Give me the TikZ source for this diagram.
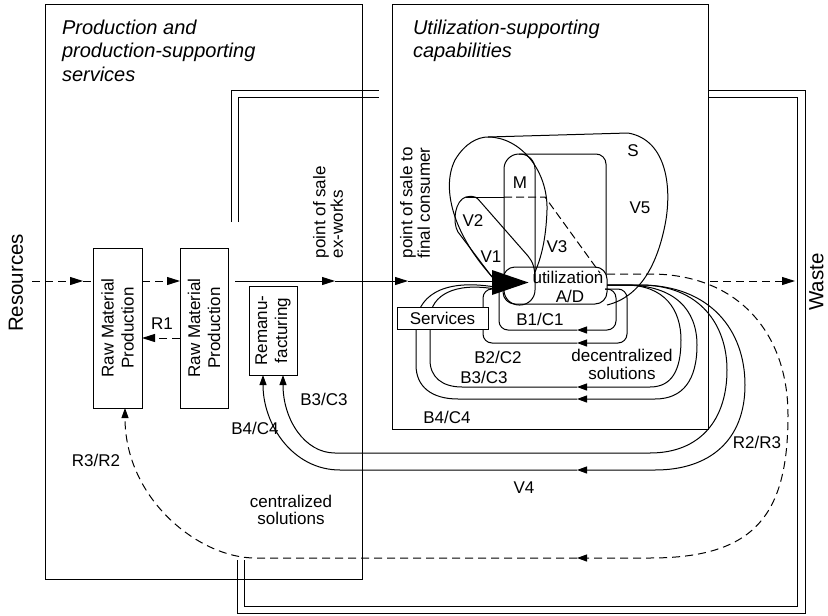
\documentclass[tikz,border=0pt]{standalone}
\usepackage{fontspec}
\setmainfont{Liberation Sans}
\usetikzlibrary{arrows.meta}
\begin{document}
\begin{tikzpicture}[x=1pt,y=-1pt,line width=1pt,
  every node/.style={inner sep=0pt,outer sep=0pt,font=\fontsize{17}{20}\selectfont},
  blk/.style={draw,line width=1pt},
  bigtip/.style={-{Triangle[length=13pt,width=8pt]}},
  smtip/.style={-{Triangle[length=10pt,width=7pt]}},
  dsh/.style={dash pattern=on 8pt off 5pt},
  ttl/.style={anchor=north west,align=left,font=\fontsize{20}{23.5}\selectfont\itshape},
  side/.style={rotate=90,font=\fontsize{20.5}{24}\selectfont},
  possale/.style={rotate=90,anchor=north west,align=left,font=\fontsize{17}{17.5}\selectfont},
]
\useasboundingbox (0,0) rectangle (828,616);

% helper coordinates
\coordinate (fy) at (0,281);
\coordinate (r1y) at (0,338);
\coordinate (x125) at (125,0);
\coordinate (x263) at (263,0);
\coordinate (x283) at (283,0);

% big frames
\node[blk,minimum width=317pt,minimum height=575pt] (prod) at (203.5,291.5) {};
\node[blk,minimum width=316pt,minimum height=425pt] (util) at (550,216.5) {};
\node[ttl] (t1) at (62,20) {Production and\\production-supporting\\services};
\node[ttl] (t2) at (413,20) {Utilization-supporting\\capabilities};

% double frame
\draw (231,222) -- (231,90) -- (379,90);
\draw (238,222) -- (238,97) -- (379,97);
\draw (708,90) -- (805,90) -- (805,613) -- (237,613) -- (237,560);
\draw (708,97) -- (797,97) -- (797,606) -- (244,606) -- (244,560);

% side labels
\node[side] (res) at (16,283) {Resources};
\node[side] (waste) at (816.5,282) {Waste};

% production boxes
\node[blk,minimum width=49pt,minimum height=160pt] (rm1) at (117.5,328) {};
\node[rotate=90,align=center] at (rm1) {Raw Material\\Production};
\node[blk,minimum width=48pt,minimum height=160pt] (rm2) at (204,328) {};
\node[rotate=90,align=center] at (rm2) {Raw Material\\Production};
\node[blk,minimum width=48pt,minimum height=89pt] (reman) at (273,330.5) {};
\node[rotate=90,align=center] at (reman) {Remanu-\\facturing};

% flows on the left
\coordinate (rs) at (32,281);
\coordinate (rtip) at (83,281);
\draw[dsh,bigtip] (rs) -- (rtip);
\draw[dsh] (rtip) -- (rm1.west |- fy);
\draw[dsh,bigtip] (rm1.east |- fy) -- (rm2.west |- fy);
\draw[dsh,bigtip] (rm2.west |- r1y) -- (rm1.east |- r1y);
\node (r1) at (162,324) {R1};

% main solid flow
\coordinate (f0) at (235,281);
\coordinate (f1) at (335,281);
\coordinate (f2) at (408,281);
\coordinate (f3) at (495,281);
\draw[bigtip] (f0) -- (f1);
\draw[bigtip] (f1) -- (f2);
\draw (f2) -- (f3);
\node[possale] (pse) at (313,258) {point of sale\\ex-works};
\node[possale] (psf) at (400,258) {point of sale to\\final consumer};

% waste arrow
\coordinate (w0) at (710,281);
\coordinate (w1) at (795,281);
\draw[dsh,bigtip] (w0) -- (w1);

% utilization structures
\draw[rounded corners=15pt] (504,154) rectangle (535,305);
\draw[rounded corners=10pt] (519,154) -| (606,275);
\draw[rounded corners=12pt] (503,267) rectangle (607,304);
% teardrop
\draw (500,285) .. controls (455,240) and (440,190) .. (455,160)
  .. controls (465,143) and (478,137) .. (488,137)
  .. controls (520,137) and (548,170) .. (547,210)
  .. controls (546,240) and (541,258) .. (535,272);
% outer S
\draw (488,137) -- (628,133) .. controls (668,140) and (672,190) .. (665,225)
  .. controls (657,265) and (640,297) .. (607,305);
% V2 shape
\draw (492,277) -- (458,232) .. controls (452,222) and (455,200) .. (466,197)
  .. controls (471,196) and (475,196) .. (478,199) -- (528,256)
  .. controls (533,262) and (535,268) .. (535,280);
\draw (466,197) -- (504,197);
\draw[dash pattern=on 8pt off 4pt] (504,197) -- (545,197) -- (600,273);
% big arrowhead
\fill (492,270) -- (528.5,282.5) -- (492,295) -- cycle;

\node at (520,183) {M};
\node at (473,221) {V2};
\node at (491,257) {V1};
\node at (557,247) {V3};
\node at (633,151) {S};
\node at (640,208) {V5};
\node[anchor=base] at (568,283) {utilization};
\node[anchor=base] at (570,302) {A/D};

% B1/C1 loop
\draw[rounded corners=9pt,smtip] (605,289) -| (616,330) -- (577,330);
\draw[rounded corners=9pt] (577,330) -| (499,292);
% B2/C2 loop
\draw[rounded corners=9pt,smtip] (605,289) -| (627,343) -- (577,343);
\draw[rounded corners=9pt] (577,343) -| (483,289) -- (500,289);
% B3/C3 decentralized
\draw[smtip] (607,285) -- (625,285) .. controls (665,285) and (681,310) .. (681,340)
  .. controls (681,370) and (672,387) .. (650,387) -- (577,387);
\draw (577,387) -- (462,387) .. controls (442,387) and (430,377) .. (430,360)
  -- (430,318) .. controls (431,295) and (455,282) .. (495,289);
% B4/C4 decentralized
\draw[smtip] (607,285) -- (625,285) .. controls (675,285) and (697,310) .. (697,345)
  .. controls (697,380) and (683,399) .. (655,399) -- (577,399);
\draw (577,399) -- (458,399) .. controls (432,399) and (416,387) .. (416,365)
  -- (416,325) .. controls (417,298) and (440,278) .. (495,287);
% B3/C3 centralized
\draw[smtip] (607,285) -- (640,285) .. controls (700,285) and (727,325) .. (727,370)
  .. controls (727,420) and (700,453) .. (650,453) -- (335,453)
  .. controls (305,453) and (283,420) .. (reman.south -| x283);
% V4 / B4/C4 centralized
\draw[smtip] (607,285) -- (640,285) .. controls (710,285) and (745,330) .. (745,385)
  .. controls (745,440) and (710,470) .. (655,470) -- (577,470);
\draw[smtip] (577,470) -- (340,470) .. controls (293,470) and (263,425) .. (reman.south -| x263);
% R2/R3 dashed
\draw[dsh,smtip] (607,274) -- (650,274) .. controls (740,274) and (788,335) .. (788,415)
  .. controls (788,515) and (755,558) .. (650,558) -- (577,558);
\draw[dsh,smtip] (577,558) -- (255,558) .. controls (200,558) and (125,500) .. (rm1.south -| x125);

% services box
\node[blk,fill=white,minimum width=91pt,minimum height=22pt] (serv) at (442.5,318) {Services};

% loop labels
\node at (540,319) {B1/C1};
\node at (498,357) {B2/C2};
\node at (484,377) {B3/C3};
\node at (447,417) {B4/C4};
\node[anchor=base] at (622,361) {decentralized};
\node[anchor=base] at (622,379) {solutions};
\node at (324,399) {B3/C3};
\node at (255,428) {B4/C4};
\node at (96,460) {R3/R2};
\node at (524,488) {V4};
\node at (757,442) {R2/R3};
\node[anchor=base] at (291,507) {centralized};
\node[anchor=base] at (291,524) {solutions};
\end{tikzpicture}
\end{document}
